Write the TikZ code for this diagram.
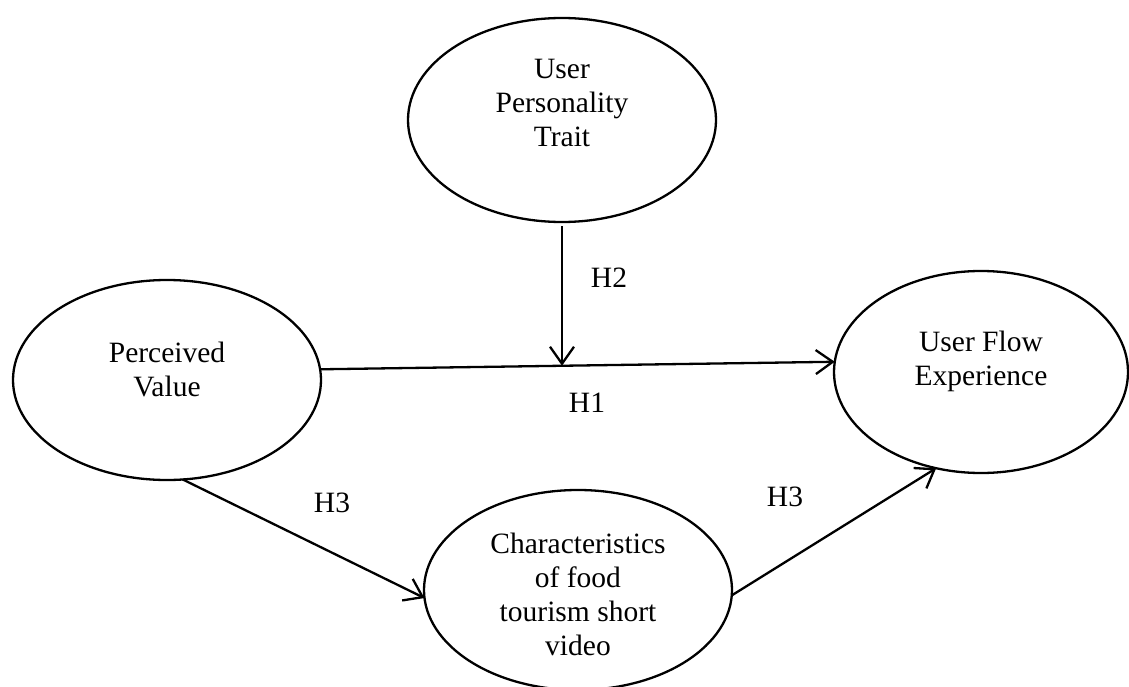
\documentclass[tikz,border=0pt]{standalone}
\usepackage{fontspec}
\setmainfont{Liberation Serif}
\usetikzlibrary{shapes.geometric,arrows.meta}
\tikzset{
  latent/.style={ellipse, draw, line width=2.3pt, inner sep=0pt, outer sep=0pt},
  txt/.style={align=center, inner sep=0pt, font=\fontsize{29.5}{34}\selectfont},
  path/.style={line width=2.3pt, -{Straight Barb[length=17pt,width=24pt]}}
}
\begin{document}
\begin{tikzpicture}[x=1pt,y=-1pt]
\useasboundingbox (0,0) rectangle (1129,687);
\node[latent, minimum width=308pt, minimum height=204pt] (upt) at (562,120){};
\node[txt] (upttxt) at (562,103){User\\Personality\\Trait};
\node[latent, minimum width=308pt, minimum height=200pt] (pv) at (167,380){};
\node[txt] (pvtxt) at (167,369){Perceived\\Value};
\node[latent, minimum width=294pt, minimum height=202pt] (ufe) at (981,372){};
\node[txt] (ufetxt) at (981,361){User Flow\\Experience};
\node[latent, minimum width=308pt, minimum height=200pt] (cfv) at (578,590){};
\node[txt] (cfvtxt) at (578,594){Characteristics\\of food\\tourism short\\video};
\draw[path](pv.4) -- coordinate[pos=0.474] (hmid) (ufe.176);
\draw[path, shorten <=4pt](upt.south) -- (upt.south |- hmid);
\draw[path](pv.-81) -- (cfv.183);
\draw[path](cfv.-2) -- (ufe.245);
\node[txt] (h1) at (587,403){H1};
\node[txt] (h2) at (609,278){H2};
\node[txt] (h3a) at (332,503){H3};
\node[txt] (h3b) at (785,497){H3};
\end{tikzpicture}
\end{document}
